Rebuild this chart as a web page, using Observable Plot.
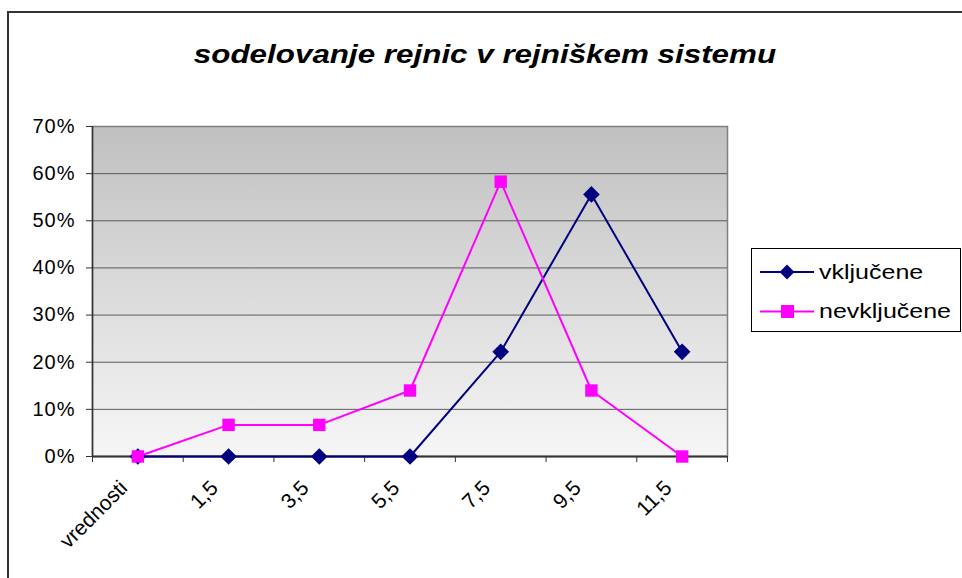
<!DOCTYPE html>
<html><head><meta charset="utf-8">
<script src="https://cdn.jsdelivr.net/npm/d3@7"></script>
<script src="https://cdn.jsdelivr.net/npm/@observablehq/plot@0.6"></script>
<style>
html,body{margin:0;padding:0;background:#fff}
body{width:962px;height:578px;overflow:hidden;position:relative;font-family:Arial,"Liberation Sans",sans-serif}
#frame{position:absolute;left:7px;top:11px;width:1000px;height:700px;border:2px solid #333;box-sizing:border-box}
#title{position:absolute;left:185px;width:600px;top:42px;text-align:center;font-weight:bold;font-style:italic;font-size:25.5px;line-height:25px;transform:scaleX(1.23);transform-origin:center;white-space:nowrap}
#chart{position:absolute;left:0;top:0}
#legend{position:absolute;left:751px;top:248px;width:210px;height:84px;border:1px solid #000;box-sizing:border-box;background:#fff}
</style>
</head><body>
<div id="frame"></div>
<div id="title">sodelovanje rejnic v rejniškem sistemu</div>
<div id="chart"></div>
<div id="legend"></div>
<script>
const categories = ["vrednosti", "1,5", "3,5", "5,5", "7,5", "9,5", "11,5"];
const vkljucene = [0, 0, 0, 0, 0.222, 0.556, 0.222];
const nevkljucene = [0, 0.067, 0.067, 0.14, 0.583, 0.14, 0];
const seriesNames = ["vključene", "nevključene"];
const seriesColors = ["#000080", "#ff00ff"];
const yTicks = [0, 0.1, 0.2, 0.3, 0.4, 0.5, 0.6, 0.7];

const idx = (d, i) => i;
const val = d => d;
const boundaries = d3.range(categories.length + 1).map(i => i - 0.5);

const chart = Plot.plot({
  width: 962,
  height: 578,
  marginLeft: 92,
  marginRight: 235,
  marginTop: 126,
  marginBottom: 122,
  style: {fontFamily: "Arial, 'Liberation Sans', sans-serif", color: "#000", background: "transparent"},
  x: {type: "linear", domain: [-0.5, categories.length - 0.5], axis: null},
  y: {domain: [0, 0.7], axis: null},
  marks: [
    Plot.frame({fill: "url(#bgGrad)", stroke: "#808080", strokeWidth: 1.5}),
    Plot.ruleY(yTicks.slice(1, -1), {stroke: "#5a5a5a", strokeWidth: 1}),
    Plot.axisY({ticks: yTicks, tickFormat: d3.format(".0%"), tickSize: 6, tickPadding: 11, fontSize: 20, stroke: "#333", fill: "#000"}),
    Plot.axisX({ticks: boundaries, tickFormat: () => "", tickSize: 6, stroke: "#333"}),
    Plot.ruleX([-0.5], {stroke: "#333", strokeWidth: 1.5}),
    Plot.ruleY([0], {stroke: "#333", strokeWidth: 2}),
    Plot.line(vkljucene, {x: idx, y: val, stroke: seriesColors[0], strokeWidth: 2}),
    Plot.dot(vkljucene, {x: idx, y: val, symbol: "diamond2", r: 7.5, fill: seriesColors[0], stroke: "none"}),
    Plot.line(nevkljucene, {x: idx, y: val, stroke: seriesColors[1], strokeWidth: 2}),
    Plot.dot(nevkljucene, {x: idx, y: val, symbol: "square", r: 7, fill: seriesColors[1], stroke: "none"}),
    Plot.text(categories, {x: idx, y: () => 0, text: val, rotate: -45, textAnchor: "end", lineAnchor: "middle", dx: -14, dy: 28, fontSize: 21, fill: "#000", ariaLabel: "category label"})
  ]
});

const svgSel = d3.select(chart);
svgSel.selectAll('g[aria-label="y-axis tick label"]').attr("letter-spacing", "1px");
svgSel.selectAll('g[aria-label="category label"]').attr("letter-spacing", "1.5px");
const defs = svgSel.insert("defs", ":first-child");
const grad = defs.append("linearGradient").attr("id", "bgGrad").attr("x1", 0).attr("y1", 0).attr("x2", 0).attr("y2", 1);
grad.append("stop").attr("offset", "0%").attr("stop-color", "#c0c0c0");
grad.append("stop").attr("offset", "100%").attr("stop-color", "#f6f6f6");
document.getElementById("chart").appendChild(chart);

// legend
const lg = d3.select("#legend").append("svg").attr("width", 208).attr("height", 82);
seriesNames.forEach((name, i) => {
  const cy = 23 + i * 39.5;
  const g = lg.append("g");
  g.append("line").attr("x1", 8).attr("x2", 62).attr("y1", cy).attr("y2", cy).attr("stroke", seriesColors[i]).attr("stroke-width", 2);
  if (i === 0) {
    g.append("path").attr("d", d3.symbol(d3.symbolDiamond2, 140)()).attr("transform", `translate(35,${cy})`).attr("fill", seriesColors[i]);
  } else {
    g.append("rect").attr("x", 29).attr("y", cy - 6.5).attr("width", 13).attr("height", 13).attr("fill", seriesColors[i]);
  }
  g.append("text").attr("x", 67).attr("y", cy + 7).attr("font-size", 20.5).attr("transform", `translate(67,0) scale(1.22,1) translate(-67,0)`).text(name);
});
</script>
</body></html>
